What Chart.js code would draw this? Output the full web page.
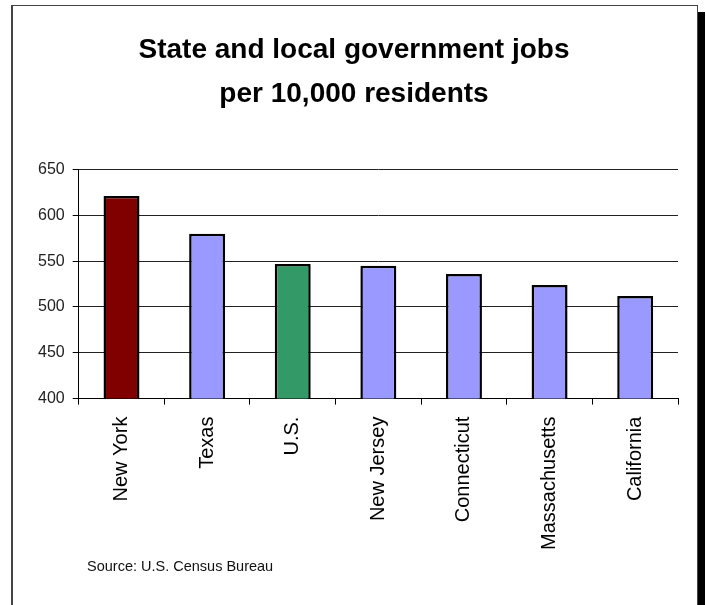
<!DOCTYPE html>
<html>
<head>
<meta charset="utf-8">
<title>State and local government jobs</title>
<script src="https://cdn.jsdelivr.net/npm/chart.js@4"></script>
<style>
  html, body { margin: 0; padding: 0; background: #fff; }
  #stage { position: relative; width: 706px; height: 605px; overflow: hidden; }
  /* framed panel with the heavy drop shadow on the right */
  #frame {
    position: absolute; left: 11px; top: 5px; width: 684px; height: 640px;
    border: 1px solid #444; border-left-width: 2px; background: #fff;
    box-shadow: 7px 7px 0 #000;
  }
  #jobs-chart { position: absolute; left: 0; top: 0; }
  #source-note {
    position: absolute; left: 87px; top: 559px;
    font: 14.5px "Liberation Sans", Arial, sans-serif; line-height: 1; color: #111;
  }
</style>
</head>
<body>
<div id="stage">
  <div id="frame"></div>
  <canvas id="jobs-chart" width="706" height="605"></canvas>
  <div id="source-note">Source: U.S. Census Bureau</div>
</div>
<script>
// Chart data
const states = ["New York", "Texas", "U.S.", "New Jersey", "Connecticut", "Massachusetts", "California"];
const jobsPer10k = [621, 580, 547, 545, 536, 524, 512];
const barColors = ["#800000", "#9999FF", "#339966", "#9999FF", "#9999FF", "#9999FF", "#9999FF"];
const yTicks = [400, 450, 500, 550, 600, 650];

const FONT = "'Liberation Sans', Arial, sans-serif";

document.addEventListener("DOMContentLoaded", () => {
  initJobsChart();
});

function initJobsChart() {
  const canvas = document.getElementById("jobs-chart");
  if (!canvas) return;

  const ctx = canvas.getContext("2d");

  new Chart(ctx, {
    type: "bar",
    data: {
      labels: states,
      datasets: [{
        label: "Jobs per 10,000 residents",
        data: jobsPer10k,
        backgroundColor: barColors,
        borderColor: "#000",
        borderWidth: 2.5,
        borderSkipped: false,
        categoryPercentage: 1,
        barPercentage: 0.42
      }]
    },
    options: {
      responsive: false,
      animation: false,
      layout: { padding: { top: 10, left: 30, right: 28, bottom: 43 } },
      plugins: {
        legend: { display: false },
        tooltip: { enabled: false },
        title: {
          display: true,
          text: ["State and local government jobs", "per 10,000 residents"],
          color: "#000",
          font: { family: FONT, size: 28, weight: "bold", lineHeight: 1.58 },
          padding: { top: 18, bottom: 53 }
        }
      },
      scales: {
        x: {
          offset: true,
          grid: {
            offset: true,
            drawOnChartArea: true,
            // only the right-hand edge of the plot gets a line inside the area
            color: (c) => (c.index === states.length ? "#888" : "rgba(0,0,0,0)"),
            tickColor: "#000",
            tickLength: 6
          },
          border: { color: "#000", width: 1 },
          ticks: {
            color: "#000",
            minRotation: 90,
            maxRotation: 90,
            padding: 12,
            font: { family: FONT, size: 20 }
          }
        },
        y: {
          min: yTicks[0],
          max: yTicks[yTicks.length - 1],
          afterBuildTicks: (scale) => {
            scale.ticks = yTicks.map(v => ({ value: v }));
          },
          grid: { color: "#222", lineWidth: 1, tickLength: 6, tickColor: "#000" },
          border: { color: "#000", width: 1 },
          ticks: {
            color: "#222",
            padding: 8,
            font: { family: FONT, size: 16 }
          }
        }
      }
    }
  });
}
</script>
</body>
</html>
